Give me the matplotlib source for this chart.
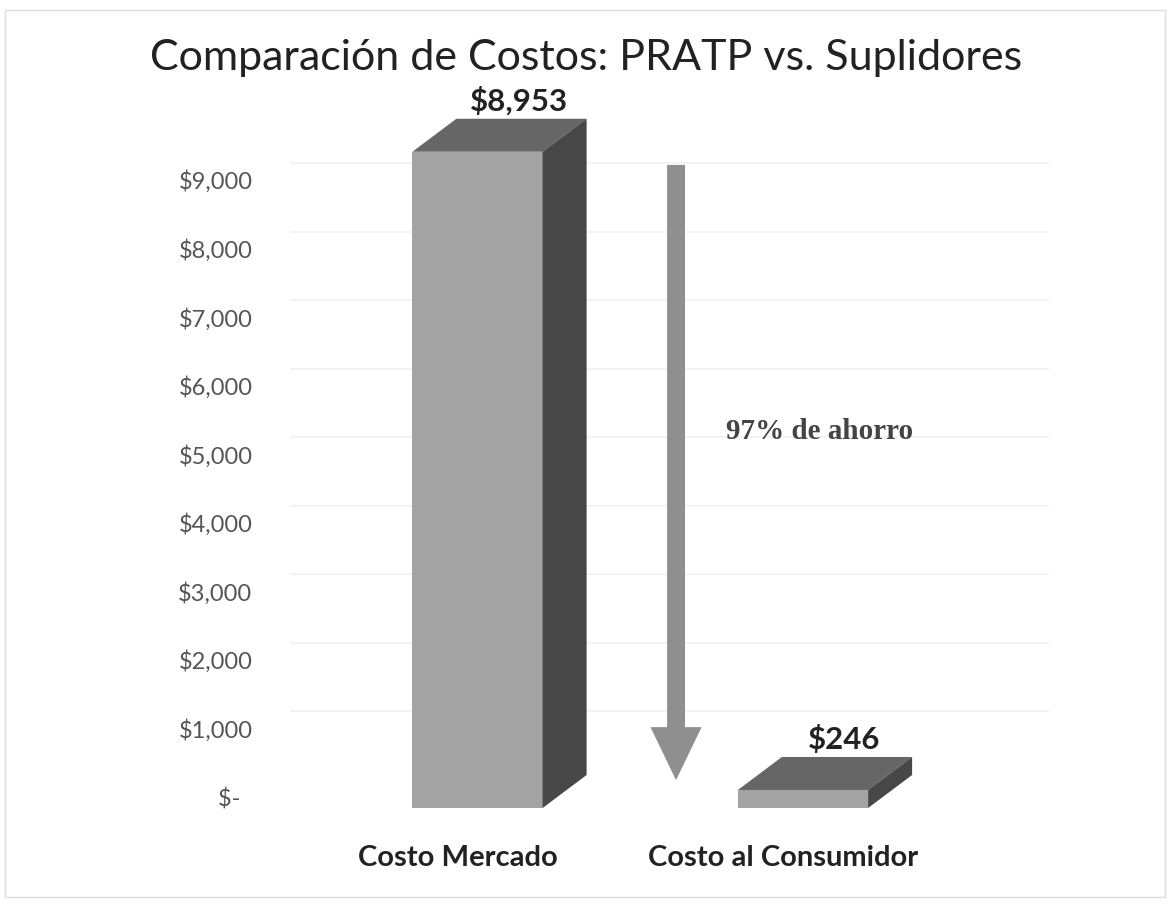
import matplotlib.pyplot as plt
from matplotlib.patches import Polygon, FancyArrow, Rectangle
from matplotlib.transforms import ScaledTranslation, offset_copy

# datos ------------------------------
categories = ["Costo Mercado", "Costo al Consumidor"]
costs = [8953, 246]
value_labels = ["$8,953", "$246"]
y_ticks = [0, 1000, 2000, 3000, 4000, 5000, 6000, 7000, 8000, 9000]
y_tick_labels = ["$-  ", "$1,000", "$2,000", "$3,000", "$4,000", "$5,000",
                 "$6,000", "$7,000", "$8,000", "$9,000"]
title = "Comparación de Costos: PRATP vs. Suplidores"
savings_text = "97% de ahorro"

plt.rcParams['font.family'] = ['Lato', 'DejaVu Sans']

W, H = 1172, 905
fig = plt.figure(figsize=(W / 100, H / 100), dpi=100)
fig.patch.set_facecolor('white')

px_bottom = 835          # bottom of the plotting area (pixels from top)
front_scale = 0.0733     # px per unit on the front plane
label_scale = 0.06856    # px per unit on the axis labels (perspective)

# back wall: tick labels + gridlines
ax_t = fig.add_axes([258 / W, (H - px_bottom) / H, 1 - 258 / W, px_bottom / H])
ax_t.set_ylim(-(px_bottom - 797) / label_scale, 797 / label_scale)
ax_t.set_xlim(0, 1)
ax_t.set_yticks(y_ticks)
ax_t.set_yticklabels(y_tick_labels, fontsize=17, color='#555555')
ax_t.tick_params(axis='y', length=0, pad=4)
ax_t.set_xticks([])
for s in ax_t.spines.values():
    s.set_visible(False)
grid_tr = offset_copy(ax_t.transData, fig=fig, y=17, units='dots')
ax_t.hlines(y_ticks[1:], 0.035, 0.865, colors='#f1f1f1', lw=1.2, transform=grid_tr)

# front: 3D bars
ax = fig.add_axes([0, (H - px_bottom) / H, 1, px_bottom / H])
ax.patch.set_visible(False)
ax.set_xlim(-477.5 / 325.5, (W - 477.5) / 325.5)
ax.set_ylim(-(px_bottom - 808) / front_scale, 808 / front_scale)
for s in ax.spines.values():
    s.set_visible(False)

bar_w = 0.40
dx = 44 / 325.5
dy = 33 / front_scale
for i, v in enumerate(costs):
    x0, x1 = i - bar_w / 2, i + bar_w / 2
    ax.add_patch(Polygon([(x0, 0), (x1, 0), (x1, v), (x0, v)], closed=True,
                         fc='#a3a3a3', ec='none'))
    ax.add_patch(Polygon([(x0, v), (x1, v), (x1 + dx, v + dy), (x0 + dx, v + dy)],
                         closed=True, fc='#666666', ec='none'))
    ax.add_patch(Polygon([(x1, 0), (x1 + dx, dy), (x1 + dx, v + dy), (x1, v)],
                         closed=True, fc='#474747', ec='none'))
    ax.annotate(value_labels[i], (i + dx / 2 + 0.06, v + dy), xytext=(0, 6),
                textcoords='offset points', ha='center', va='baseline',
                fontsize=22.5, weight='bold', color='#222222')

# flecha de ahorro
arrow_x = 0.61
arrow_top = costs[0] - 180
arrow_tip = 380
ax.add_patch(FancyArrow(arrow_x, arrow_top, 0, -(arrow_top - arrow_tip),
                        width=0.055, head_width=0.157, head_length=723,
                        length_includes_head=True, fc='#8f8f8f', ec='none'))
ax.text(1.05, 5130, savings_text, ha='center', va='center', fontsize=21,
        family='Liberation Serif', weight='bold', color='#444444')

ax.set_yticks([])
ax.set_xticks(range(len(categories)))
ax.set_xticklabels(categories, fontsize=21, weight='bold', color='#222222')
ax.tick_params(axis='x', length=0, pad=7)
for lbl in ax.get_xticklabels():
    lbl.set_transform(lbl.get_transform() + ScaledTranslation(-0.2, 0, fig.dpi_scale_trans))

fig.text(0.5, 1 - 58 / H, title, ha='center', va='center', fontsize=31, color='#222222')

fig.add_artist(Rectangle((5 / W, 8 / H), 1160 / W, 887 / H, transform=fig.transFigure,
                         fill=False, ec='#dddddd', lw=1))

fig.savefig('out.png', dpi=100)
